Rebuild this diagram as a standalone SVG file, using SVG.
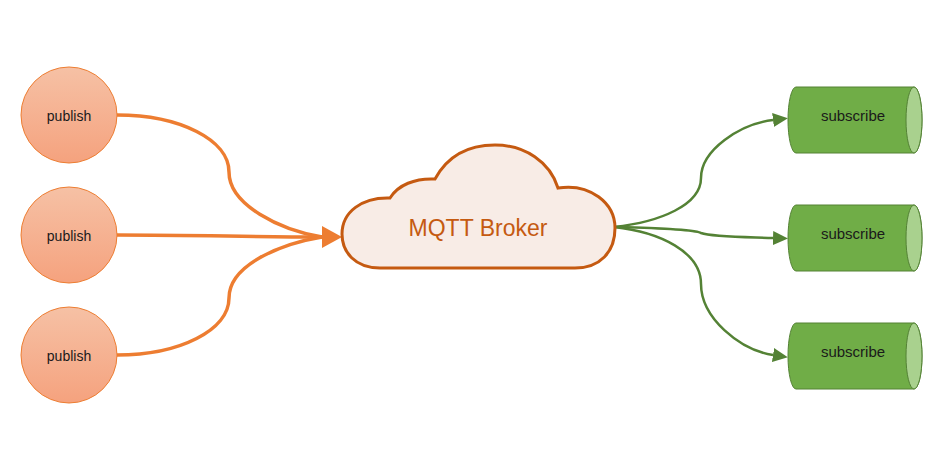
<svg xmlns="http://www.w3.org/2000/svg" width="950" height="475" viewBox="0 0 950 475">
<defs>
<linearGradient id="pubGrad" x1="0" y1="0" x2="0" y2="1">
<stop offset="0" stop-color="#f6c1a5"/>
<stop offset="1" stop-color="#f5a27e"/>
</linearGradient>
<marker id="arrowOrange" markerUnits="userSpaceOnUse" markerWidth="20" markerHeight="22" refX="0" refY="11" orient="auto">
<path d="M0,0 L20,11 L0,22 Z" fill="#ed7d31"/>
</marker>
<marker id="arrowGreen" markerUnits="userSpaceOnUse" markerWidth="15" markerHeight="14" refX="0" refY="7" orient="auto">
<path d="M0,0 L15,7 L0,14 Z" fill="#548235"/>
</marker>
</defs>
<style>
.pub circle { fill: url(#pubGrad); stroke: #ed7d31; stroke-width: 1; }
.lbl { font-family: "Liberation Sans", Arial, sans-serif; fill: #1a1a1a; text-anchor: middle; }
.sub .body { fill: #70ad47; stroke: #548235; stroke-width: 1; }
.sub .cap { fill: #a9d18e; stroke: #548235; stroke-width: 1; }
.oc { fill: none; stroke: #ed7d31; stroke-width: 3.5; }
.gc { fill: none; stroke: #548235; stroke-width: 2.5; }
</style>
<rect width="950" height="475" fill="#ffffff"/>

<g id="connectors">
<path class="oc" d="M117,115 C180,115 229,140 229,172 C229,205 280,230 322,237"/>
<path class="oc" d="M117,235 C200,235 250,237 322,237" marker-end="url(#arrowOrange)"/>
<path class="oc" d="M117,355 C180,355 229,330 229,298 C229,265 280,244 322,237"/>
<path class="gc" d="M614,227 C660,222 701,205 701,178 C701,150 740,124 773,120" marker-end="url(#arrowGreen)"/>
<path class="gc" d="M614,227 C650,228 692,229 701,233 C712,237 745,237 773,238" marker-end="url(#arrowGreen)"/>
<path class="gc" d="M614,227 C660,232 701,252 701,284 C701,318 740,350 773,355" marker-end="url(#arrowGreen)"/>
</g>

<g id="publish1" class="pub">
<circle cx="69" cy="115" r="48"/>
<text class="lbl" x="69" y="121" font-size="14">publish</text>
</g>
<g id="publish2" class="pub">
<circle cx="69" cy="235" r="48"/>
<text class="lbl" x="69" y="241" font-size="14">publish</text>
</g>
<g id="publish3" class="pub">
<circle cx="69" cy="355" r="48"/>
<text class="lbl" x="69" y="361" font-size="14">publish</text>
</g>

<g id="broker">
<path d="M380,268 C355,268 342,252 342,234 C342,212 362,197 390,198 C398,185 415,178 435,179 C448,155 470,145 495,145 C525,145 550,162 558,188 C590,183 615,203 615,228 C615,252 600,268 575,268 Z" fill="#f8ece6" stroke="#c55a11" stroke-width="3"/>
<text x="478" y="236" font-family="Liberation Sans, Arial, sans-serif" font-size="23" fill="#c55a11" text-anchor="middle">MQTT Broker</text>
</g>

<g id="subscribe1" class="sub">
<path class="body" d="M796,87 L914,87 A8,33 0 0 1 914,153 L796,153 A8,33 0 0 1 796,87 Z"/>
<ellipse class="cap" cx="914" cy="120" rx="8" ry="33"/>
<text class="lbl" x="853" y="121" font-size="15">subscribe</text>
</g>
<g id="subscribe2" class="sub">
<path class="body" d="M796,205 L914,205 A8,33 0 0 1 914,271 L796,271 A8,33 0 0 1 796,205 Z"/>
<ellipse class="cap" cx="914" cy="238" rx="8" ry="33"/>
<text class="lbl" x="853" y="239" font-size="15">subscribe</text>
</g>
<g id="subscribe3" class="sub">
<path class="body" d="M796,323 L914,323 A8,33 0 0 1 914,389 L796,389 A8,33 0 0 1 796,323 Z"/>
<ellipse class="cap" cx="914" cy="356" rx="8" ry="33"/>
<text class="lbl" x="853" y="357" font-size="15">subscribe</text>
</g>
</svg>
